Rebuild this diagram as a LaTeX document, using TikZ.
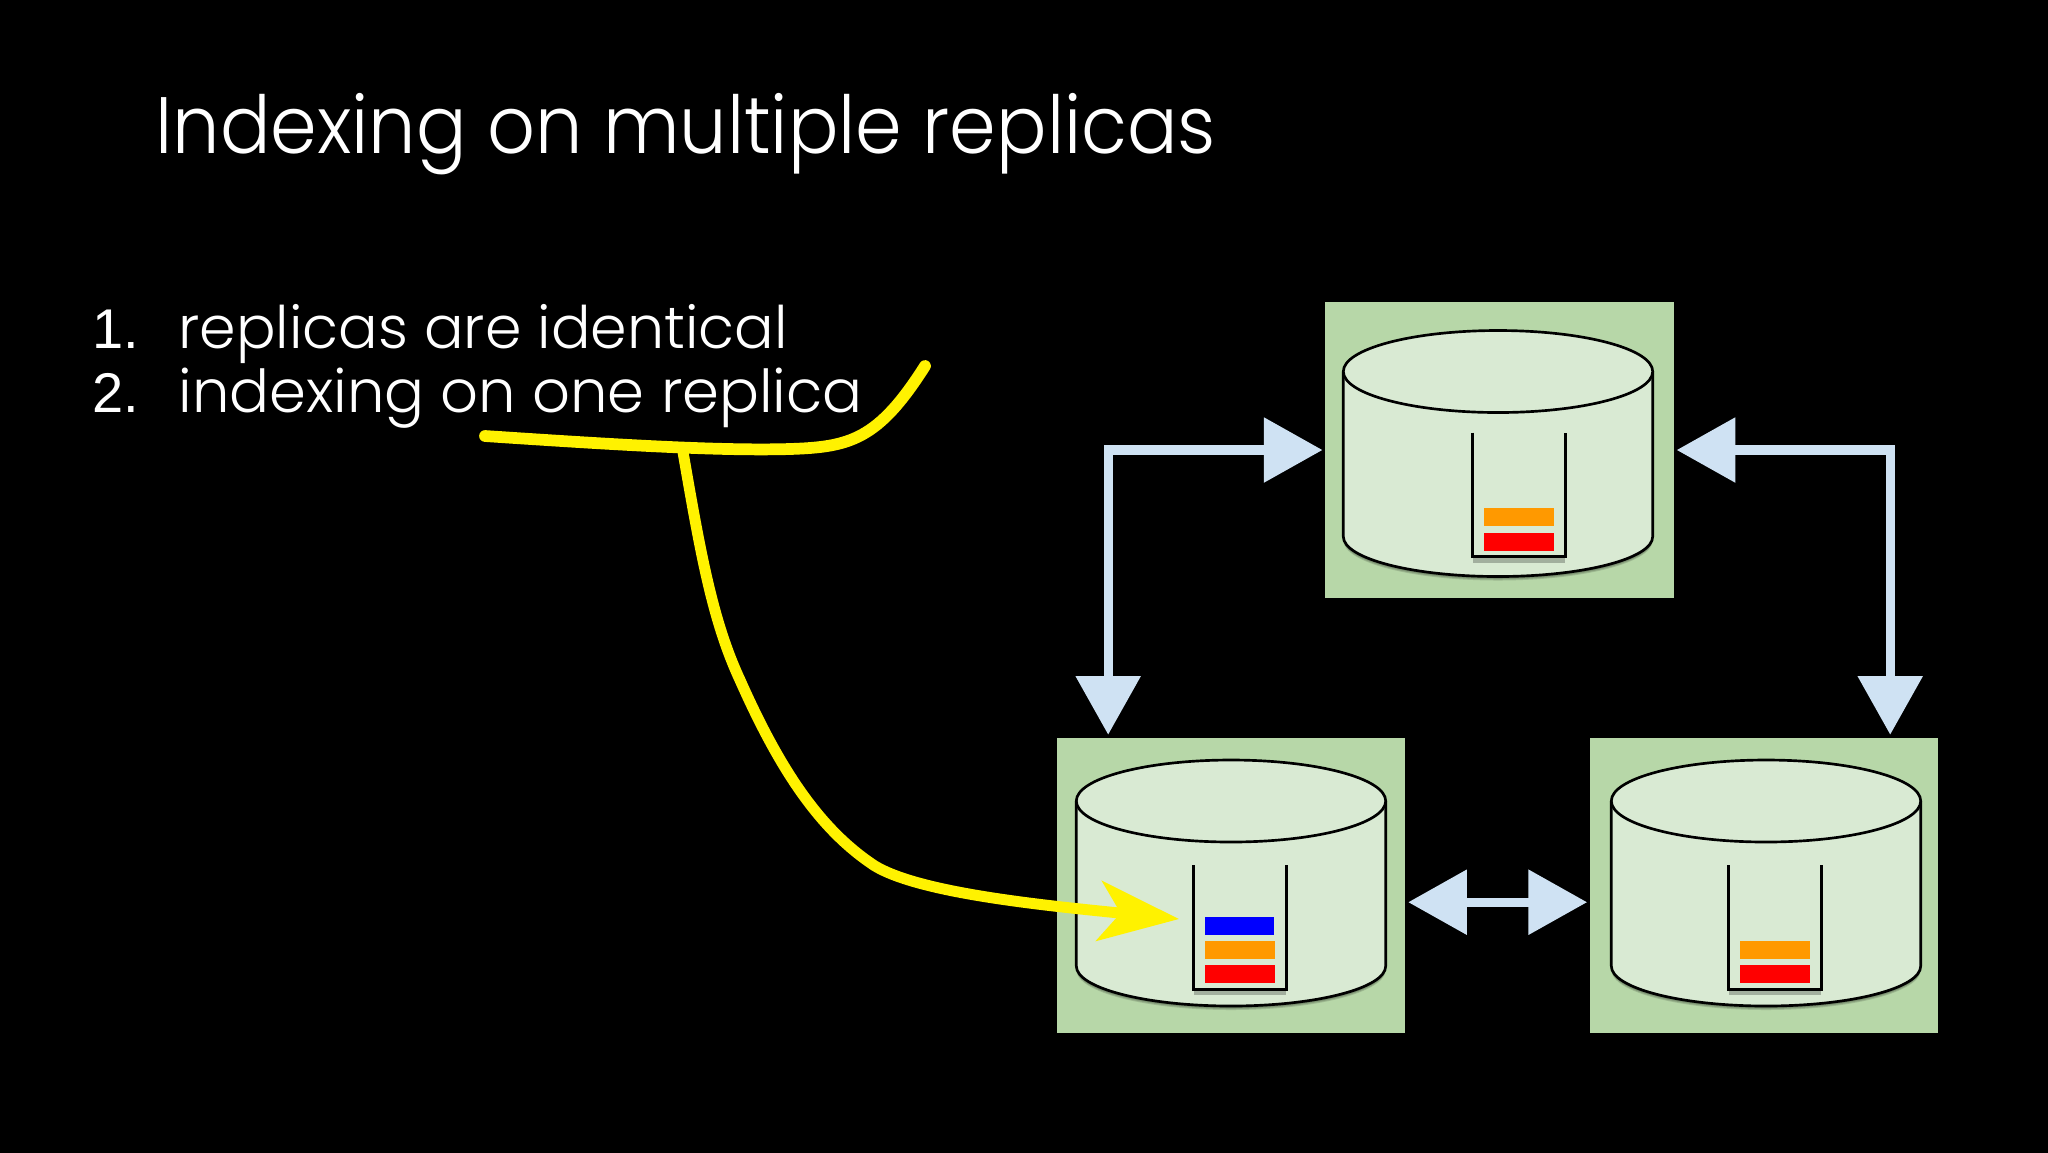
\documentclass[tikz,border=0pt]{standalone}
\usepackage{fontspec}
\setmainfont{Poppins Light}
\newfontfamily\titlefont[FakeStretch=0.936]{Poppins Light}
\newfontfamily\numfont{Liberation Sans}
\usetikzlibrary{arrows.meta}
\definecolor{boxgreen}{HTML}{B7D7A8}
\definecolor{cylgreen}{HTML}{D9EAD3}
\definecolor{linkblue}{HTML}{CFE2F3}
\definecolor{segorange}{HTML}{FF9900}
\tikzset{
	replica/.style={rectangle,fill=boxgreen,minimum width=130.6pt,minimum height=110.8pt,inner sep=0pt,outer sep=1.1pt},
	link/.style={draw=linkblue,line width=3.5pt,{Triangle[length=22pt,width=23.6pt,fill=linkblue]}-{Triangle[length=22pt,width=23.6pt,fill=linkblue]}},
	cyl/.style={draw=black,fill=cylgreen,line width=1pt},
	cup/.style={draw=black,line width=1.2pt},
	label/.style={text=white,anchor=base west,inner sep=0pt},
	marker/.style={draw=yellow,line cap=round,line join=round}
}
\begin{document}
\begin{tikzpicture}[x=0.375pt,y=-0.375pt]
	\useasboundingbox (0,0) rectangle (2048,1152);
	\fill[black] (-10,-10) rectangle (2060,1162);
	\node [label,font=\fontsize{30}{36}\titlefont] (title) at (155,153) {Indexing on multiple replicas};
	\node [label,font=\fontsize{22}{26}\selectfont] (first) at (178,348) {replicas are identical};
	\node [label,font=\fontsize{22.2}{26}\selectfont] (second) at (178,412) {indexing on one replica};
	\node [label,font=\fontsize{21}{25}\numfont] (firstnum) at (92,348) {1.};
	\node [label,font=\fontsize{21}{25}\numfont] (secondnum) at (92,412) {2.};
	\foreach \name/\bx/\by/\cx/\cy/\ux/\uy in {top/1499.6/450/1498/371.5/1518.7/556.7,lft/1231.1/885.4/1231/801/1239.8/989.3,rgt/1764.2/885.4/1766/801/1775/989.3}{
		\node [replica] (\name) at (\bx,\by) {};
		\foreach \s in {1,2,3,4}{
			\fill [black,opacity=0.14,shift={(\cx,\cy+\s)}] (-154.7,165) arc [start angle=180,end angle=0,x radius=154.7,y radius=40] -- cycle;
		}
		\path [cyl,shift={(\cx,\cy)}] (-154.7,0) -- (-154.7,165) arc [start angle=180,end angle=0,x radius=154.7,y radius=40] -- (154.7,0);
		\path [cyl] (\cx,\cy) ellipse [x radius=154.7,y radius=41];
		\fill [black,opacity=0.25,shift={(\ux,\uy)}] (-46,1) rectangle (46,6);
		\draw [cup,shift={(\ux,\uy)}] (-46.5,-124) -- (-46.5,0) -- (46.5,0) -- (46.5,-124);
		\fill [red,shift={(\ux,\uy)}] (-34.8,-24) rectangle (34.8,-6);
		\fill [segorange,shift={(\ux,\uy)}] (-34.8,-48.5) rectangle (34.8,-30.5);
	}
	\fill [blue] (1205,917.3) rectangle (1274.4,935.3);
	\path [link] (top.west) -| ([xshift=-46.1pt]lft.north);
	\path [link] (top.east) -| ([xshift=47.25pt]rgt.north);
	\path [link] ([yshift=-6.3pt]lft.east) -- ([yshift=-6.3pt]rgt.west);
	\coordinate (stem) at (683,452);
	\coordinate (target) at (1179,919);
	\path [marker,line width=4.4pt] (485,436) .. controls (620,445) and (720,451) .. (790,449) .. controls (850,447) and (878,440) .. (925,366);
	\path [marker,line width=4.1pt,-{Stealth[length=30pt,width=22.4pt,inset=8pt,fill=yellow]}] (stem) .. controls (700,550) and (712,620) .. (740,680) .. controls (780,770) and (820,830) .. (875,866) .. controls (920,893) and (1040,905) .. (target);
\end{tikzpicture}
\end{document}
